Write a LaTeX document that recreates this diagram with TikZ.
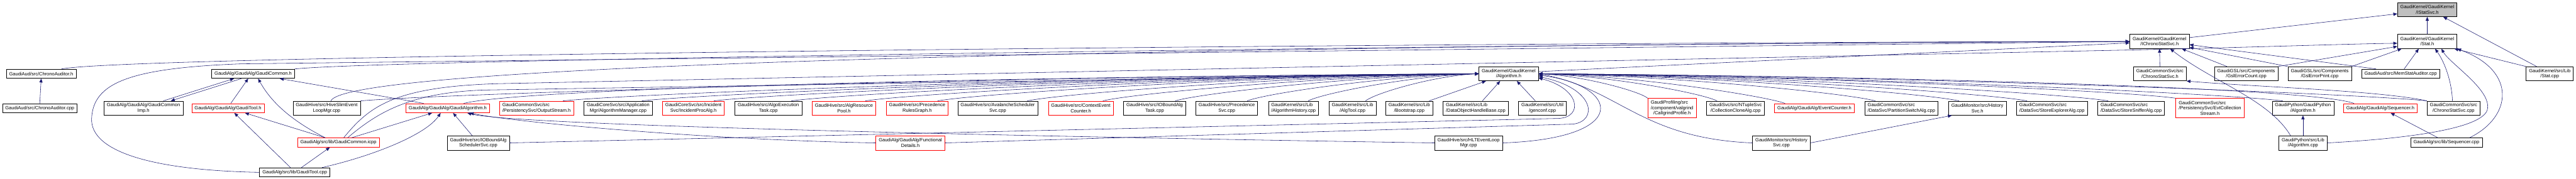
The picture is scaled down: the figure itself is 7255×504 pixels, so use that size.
\documentclass[tikz,border=0pt]{standalone}
\usepackage{fontspec}
\setmainfont{Liberation Sans}
\usetikzlibrary{arrows.meta}
\definecolor{doxyedge}{HTML}{191970}
\definecolor{doxyred}{HTML}{FF0000}
\definecolor{doxygray}{HTML}{BFBFBF}
\newcommand{\doxleft}[2]{\rlap{#1}\phantom{#2}}
\tikzset{
    filenode/.style={
        draw=black,
        fill=white,
        line width=1.1pt,
        inner xsep=8pt,
        inner ysep=1pt,
        minimum height=26pt,
        align=center,
        font=\fontsize{13.3}{15}\selectfont
    },
    twoline/.style={minimum height=40pt},
    threeline/.style={minimum height=55pt},
    filered/.style={filenode, draw=doxyred},
    filetop/.style={filenode, fill=doxygray},
    includearrow/.style={
        -{Triangle[length=11pt,width=9pt]},
        draw=doxyedge,
        line width=1pt
    }
}

\begin{document}
\begin{tikzpicture}[x=1pt, y=1pt]
    \fill[white] (0,0) rectangle (7255,-504);
    \useasboundingbox (0,0) rectangle (7255,-504);

    % headers near the top
    \node[filetop,twoline] (istatsvc) at (6836,-27)
        {GaudiKernel/GaudiKernel\\/IStatSvc.h};
    \node[filenode,twoline] (ichronostatsvc) at (6082,-117)
        {GaudiKernel/GaudiKernel\\/IChronoStatSvc.h};
    \node[filenode,twoline] (stath) at (6836,-117)
        {GaudiKernel/GaudiKernel\\/Stat.h};

    % second row
    \node[filenode] (chronoauditorh) at (116,-208)
        {GaudiAud/src/ChronoAuditor.h};
    \node[filenode] (gaudicommonh) at (713,-208)
        {GaudiAlg/GaudiAlg/GaudiCommon.h};
    \node[filenode,twoline] (algorithmh) at (4249,-208)
        {GaudiKernel/GaudiKernel\\/Algorithm.h};
    \node[filenode,twoline] (chronostatsvch) at (6083,-208)
        {GaudiCommonSvc/src\\/ChronoStatSvc.h};
    \node[filenode,twoline] (gslerrorcount) at (6326,-208)
        {GaudiGSL/src/Components\\/GslErrorCount.cpp};
    \node[filenode,twoline] (gslerrorprint) at (6533,-208)
        {GaudiGSL/src/Components\\/GslErrorPrint.cpp};
    \node[filenode] (memstatauditor) at (6761,-208)
        {GaudiAud/src/MemStatAuditor.cpp};
    \node[filenode,twoline] (statcpp) at (7181,-208)
        {GaudiKernel/src/Lib\\/Stat.cpp};

    % third row
    \node[filenode] (chronoauditorcpp) at (112,-305)
        {GaudiAud/src/ChronoAuditor.cpp};
    \node[filenode,twoline] (gaudicommonimp) at (404,-305)
        {GaudiAlg/GaudiAlg/GaudiCommon\\Imp.h};
    \node[filered] (gauditoolh) at (642,-305)
        {GaudiAlg/GaudiAlg/GaudiTool.h};
    \node[filenode,twoline] (hiveslim) at (920,-305)
        {GaudiHive/src/HiveSlimEvent\\LoopMgr.cpp};
    \node[filered] (gaudialgorithmh) at (1261,-305)
        {GaudiAlg/GaudiAlg/GaudiAlgorithm.h};
    \node[filered,twoline] (outputstream) at (1511,-305)
        {\doxleft{GaudiCommonSvc/src}{/PersistencySvc/OutputStream.h}\\/PersistencySvc/OutputStream.h};
    \node[filenode,twoline] (algorithmmanager) at (1741,-305)
        {GaudiCoreSvc/src/Application\\Mgr/AlgorithmManager.cpp};
    \node[filered,twoline] (incidentprocalg) at (1953,-305)
        {GaudiCoreSvc/src/Incident\\Svc/IncidentProcAlg.h};
    \node[filenode,twoline] (algoexecutiontask) at (2164,-305)
        {GaudiHive/src/AlgoExecution\\Task.cpp};
    \node[filered,twoline] (algresourcepool) at (2377,-305)
        {GaudiHive/src/AlgResource\\Pool.h};
    \node[filered,twoline] (precedencerules) at (2583,-305)
        {GaudiHive/src/Precedence\\RulesGraph.h};
    \node[filenode,twoline] (avalanche) at (2810,-305)
        {GaudiHive/src/AvalancheScheduler\\Svc.cpp};
    \node[filered,twoline] (contexteventcounter) at (3044,-305)
        {GaudiHive/src/ContextEvent\\Counter.h};
    \node[filenode,twoline] (ioboundalgtask) at (3252,-305)
        {GaudiHive/src/IOBoundAlg\\Task.cpp};
    \node[filenode,twoline] (precedencesvc) at (3455,-305)
        {GaudiHive/src/Precedence\\Svc.cpp};
    \node[filenode,twoline] (algorithmhistory) at (3643,-305)
        {\doxleft{GaudiKernel/src/Lib}{/AlgorithmHistory.cpp}\\/AlgorithmHistory.cpp};
    \node[filenode,twoline] (algtool) at (3809,-305)
        {GaudiKernel/src/Lib\\/AlgTool.cpp};
    \node[filenode,twoline] (bootstrap) at (3969,-305)
        {GaudiKernel/src/Lib\\/Bootstrap.cpp};
    \node[filenode,twoline] (dataobjecthandle) at (4156,-305)
        {\doxleft{GaudiKernel/src/Lib}{/DataObjectHandleBase.cpp}\\/DataObjectHandleBase.cpp};
    \node[filenode,twoline] (genconf) at (4344,-305)
        {GaudiKernel/src/Util\\/genconf.cpp};
    \node[filered,threeline] (callgrind) at (4709,-305)
        {\doxleft{GaudiProfiling/src}{/component/valgrind}\\/component/valgrind\\/CallgrindProfile.h};
    \node[filenode,twoline] (collectionclone) at (4888,-305)
        {GaudiSvc/src/NTupleSvc\\/CollectionCloneAlg.cpp};
    \node[filered] (eventcounter) at (5110,-305)
        {GaudiAlg/GaudiAlg/EventCounter.h};
    \node[filenode,twoline] (partitionswitch) at (5355,-305)
        {\doxleft{GaudiCommonSvc/src}{/DataSvc/PartitionSwitchAlg.cpp}\\/DataSvc/PartitionSwitchAlg.cpp};
    \node[filenode,twoline] (historysvch) at (5569,-305)
        {GaudiMonitor/src/History\\Svc.h};
    \node[filenode,twoline] (storeexplorer) at (5779,-305)
        {\doxleft{GaudiCommonSvc/src}{/DataSvc/StoreExplorerAlg.cpp}\\/DataSvc/StoreExplorerAlg.cpp};
    \node[filenode,twoline] (storesniffer) at (6002,-305)
        {\doxleft{GaudiCommonSvc/src}{/DataSvc/StoreSnifferAlg.cpp}\\/DataSvc/StoreSnifferAlg.cpp};
    \node[filered,threeline] (evtcollection) at (6224,-305)
        {\doxleft{GaudiCommonSvc/src}{/PersistencySvc/EvtCollection}\\/PersistencySvc/EvtCollection\\Stream.h};
    \node[filenode,twoline] (gaudipythonalgh) at (6486,-305)
        {GaudiPython/GaudiPython\\/Algorithm.h};
    \node[filered] (sequencerh) at (6704,-305)
        {GaudiAlg/GaudiAlg/Sequencer.h};
    \node[filenode,twoline] (chronostatsvccpp) at (6910,-305)
        {GaudiCommonSvc/src\\/ChronoStatSvc.cpp};

    % fourth and fifth rows
    \node[filered] (gaudicommonicpp) at (953,-402)
        {GaudiAlg/src/lib/GaudiCommon.icpp};
    \node[filenode,twoline] (ioboundalgsched) at (1347,-403)
        {GaudiHive/src/IOBoundAlg\\SchedulerSvc.cpp};
    \node[filered,twoline] (functionaldetails) at (2564,-403)
        {GaudiAlg/GaudiAlg/Functional\\Details.h};
    \node[filenode,twoline] (hlteventloop) at (4136,-403)
        {GaudiHive/src/HLTEventLoop\\Mgr.cpp};
    \node[filenode,twoline] (historysvccpp) at (5017,-403)
        {GaudiMonitor/src/History\\Svc.cpp};
    \node[filenode,twoline] (gaudipythonalgcpp) at (6486,-403)
        {GaudiPython/src/Lib\\/Algorithm.cpp};
    \node[filenode] (sequencercpp) at (6890,-402)
        {GaudiAlg/src/lib/Sequencer.cpp};
    \node[filenode] (gauditoolcpp) at (830,-486)
        {GaudiAlg/src/lib/GaudiTool.cpp};

    % direct includers of IStatSvc.h
    \draw[includearrow] ([yshift=11pt]ichronostatsvc.east) -- ([yshift=-12pt]istatsvc.west);
    \draw[includearrow] (stath.north) -- (istatsvc.south);
    \draw[includearrow] ([xshift=-37pt]statcpp.north) -- ([xshift=45pt]istatsvc.south);

    % IChronoStatSvc.h
    \draw[includearrow] (chronostatsvch.north) -- (ichronostatsvc.south);
    \draw[includearrow] ([xshift=-54pt]gslerrorcount.north) -- ([xshift=63pt]ichronostatsvc.south);
    \draw[includearrow] (gslerrorprint.north west) -- ([yshift=4pt]ichronostatsvc.south east);
    \draw[includearrow] ([xshift=-69pt]memstatauditor.north) -- ([yshift=-9pt]ichronostatsvc.east);
    \draw[includearrow] ([xshift=-35pt]gaudipythonalgcpp.north) .. controls (6390,-280) and (6230,-230) .. ([xshift=30pt]ichronostatsvc.south);
    \draw[includearrow] ([xshift=57pt]chronoauditorh.north) .. controls (400,-150) and (4800,-117) .. (ichronostatsvc.west);
    \draw[includearrow] (gaudicommonh.north east) .. controls (1100,-165) and (4800,-119) .. (ichronostatsvc.west);
    \draw[includearrow] ([xshift=12pt]hiveslim.north) .. controls (990,-150) and (4800,-121) .. (ichronostatsvc.west);
    \draw[includearrow] (gauditoolcpp.west) .. controls (420,-480) and (255,-425) .. (258,-335)
        .. controls (262,-235) and (360,-192) .. (680,-180) -- (ichronostatsvc.west);
    \draw[includearrow] ([yshift=6pt]algorithmh.east) -- ([yshift=-4pt]ichronostatsvc.west);

    % Stat.h
    \draw[includearrow] ([xshift=15pt]gaudicommonicpp.north) .. controls (1040,-300) and (1110,-245) .. (1400,-236)
        -- (5950,-142) .. controls (6300,-135) and (6600,-124) .. ([yshift=-5pt]stath.west);
    \draw[includearrow] (gslerrorcount.north east) -- ([yshift=-14pt]stath.west);
    \draw[includearrow] (gslerrorprint.north east) -- ([xshift=12pt]stath.south west);
    \draw[includearrow] ([xshift=10pt]memstatauditor.north) -- ([xshift=-24pt]stath.south);
    \draw[includearrow] ([xshift=-3pt]chronostatsvccpp.north) .. controls (6905,-230) and (6885,-175) .. ([xshift=22pt]stath.south);
    \draw[includearrow] (statcpp.north west) -- ([xshift=-8pt]stath.south east);
    \draw[includearrow] ([xshift=65pt]sequencercpp.north) .. controls (7075,-330) and (7090,-200) .. (stath.south east);
    \draw[includearrow] (gaudipythonalgcpp.east) .. controls (6800,-390) and (6990,-360) .. (7005,-310)
        .. controls (7020,-255) and (6900,-180) .. ([xshift=40pt]stath.south);

    % short links on the right
    \draw[includearrow] (chronostatsvccpp.north west) .. controls (6700,-255) and (6350,-245) .. (chronostatsvch.south east);
    \draw[includearrow] ([xshift=-24pt]sequencercpp.north) -- ([xshift=29pt]sequencerh.south);
    \draw[includearrow] (gaudipythonalgcpp.north) -- (gaudipythonalgh.south);
    \draw[includearrow] (historysvccpp.east) -- ([xshift=-72pt]historysvch.south);
    \draw[includearrow] (chronoauditorcpp.north) -- (chronoauditorh.south);

    % GaudiAlg cluster
    \draw[includearrow] ([xshift=56pt]gaudicommonimp.north) -- ([xshift=-54pt]gaudicommonh.south);
    \draw[includearrow] ([xshift=-33pt]gaudicommonh.south) -- ([xshift=77pt]gaudicommonimp.north);
    \draw[includearrow] ([xshift=8pt]gauditoolh.north) -- ([xshift=-14pt]gaudicommonh.south);
    \draw[includearrow] ([xshift=-37pt]gaudicommonicpp.north) .. controls (840,-350) and (770,-300) .. ([xshift=14pt]gaudicommonh.south);
    \draw[includearrow] ([xshift=-68pt]gaudialgorithmh.north) -- ([xshift=75pt]gaudicommonh.south);
    \draw[includearrow] ([xshift=-12pt]gauditoolcpp.north) -- ([xshift=18pt]gauditoolh.south);
    \draw[includearrow] ([xshift=-37pt]gaudicommonicpp.north) -- ([xshift=48pt]gauditoolh.south);
    \draw[includearrow] ([xshift=19pt]gauditoolcpp.north) -- ([xshift=-24pt]gaudicommonicpp.south);
    \draw[includearrow] ([xshift=77pt]gauditoolcpp.north) .. controls (1050,-440) and (1200,-380) .. ([xshift=-20pt]gaudialgorithmh.south);
    \draw[includearrow] ([xshift=37pt]gaudicommonicpp.north) -- ([xshift=-44pt]gaudialgorithmh.south);
    \draw[includearrow] ([xshift=-17pt]ioboundalgsched.north) -- ([xshift=15pt]gaudialgorithmh.south);
    \draw[includearrow] (hlteventloop.west) .. controls (3000,-387) and (1450,-355) .. ([xshift=55pt]gaudialgorithmh.south);
    \draw[includearrow] (functionaldetails.west) .. controls (2000,-395) and (1450,-345) .. ([xshift=62pt]gaudialgorithmh.south);

    % Algorithm.h, from the left
    \draw[includearrow] (hiveslim.north east) .. controls (1270,-263) and (2906,-214) .. (algorithmh.west);
    \draw[includearrow] ([xshift=26pt]gaudicommonicpp.north) .. controls (1060,-320) and (1150,-262) .. (1360,-254) -- (algorithmh.west);
    \draw[includearrow] ([xshift=45pt]gaudialgorithmh.north) .. controls (1500,-245) and (3021,-214) .. (algorithmh.west);
    \draw[includearrow] ([xshift=-30pt]outputstream.north east) .. controls (1794,-263) and (3134,-214) .. (algorithmh.west);
    \draw[includearrow] ([xshift=-30pt]algorithmmanager.north east) .. controls (1998,-263) and (3223,-214) .. (algorithmh.west);
    \draw[includearrow] ([xshift=-30pt]incidentprocalg.north east) .. controls (2185,-263) and (3304,-214) .. (algorithmh.west);
    \draw[includearrow] ([xshift=-30pt]algoexecutiontask.north east) .. controls (2386,-263) and (3391,-214) .. (algorithmh.west);
    \draw[includearrow] ([xshift=-30pt]algresourcepool.north east) .. controls (2577,-263) and (3475,-214) .. (algorithmh.west);
    \draw[includearrow] ([xshift=-30pt]precedencerules.north east) .. controls (2764,-263) and (3556,-214) .. (algorithmh.west);
    \draw[includearrow] ([xshift=-30pt]avalanche.north east) .. controls (2996,-263) and (3657,-214) .. (algorithmh.west);
    \draw[includearrow] ([xshift=-30pt]contexteventcounter.north east) .. controls (3193,-263) and (3743,-214) .. (algorithmh.west);
    \draw[includearrow] ([xshift=-30pt]ioboundalgtask.north east) .. controls (3379,-263) and (3823,-214) .. (algorithmh.west);
    \draw[includearrow] ([xshift=-30pt]precedencesvc.north east) .. controls (3566,-263) and (3905,-214) .. (algorithmh.west);
    \draw[includearrow] ([xshift=-30pt]algorithmhistory.north east) .. controls (3725,-263) and (3974,-214) .. (algorithmh.west);
    \draw[includearrow] ([xshift=-30pt]algtool.north east) .. controls (3872,-263) and (4038,-214) .. (algorithmh.west);
    \draw[includearrow] ([xshift=56pt]bootstrap.north) -- ([xshift=-64pt]algorithmh.south);
    \draw[includearrow] ([xshift=19pt]dataobjecthandle.north) -- ([xshift=-24pt]algorithmh.south);
    \draw[includearrow] ([xshift=-20pt]genconf.north) -- ([xshift=23pt]algorithmh.south);

    % Algorithm.h, from below and around its right side
    \draw[includearrow] (ioboundalgsched.east) -- (4390,-334) .. controls (4460,-330) and (4450,-250) .. ([yshift=-12pt]algorithmh.east);
    \draw[includearrow] (functionaldetails.east) -- (4430,-350) .. controls (4500,-342) and (4495,-250) .. ([yshift=-8pt]algorithmh.east);
    \draw[includearrow] (hlteventloop.east) .. controls (4600,-390) and (4560,-240) .. ([yshift=-4pt]algorithmh.east);
    \draw[includearrow] (historysvccpp.west) .. controls (4620,-390) and (4560,-250) .. (algorithmh.east);

    % Algorithm.h, from the right
    \draw[includearrow] (callgrind.north west) .. controls (4615,-256) and (4456,-214) .. (algorithmh.east);
    \draw[includearrow] ([xshift=30pt]collectionclone.north west) .. controls (4793,-263) and (4533,-214) .. (algorithmh.east);
    \draw[includearrow] ([xshift=30pt]eventcounter.north west) .. controls (4971,-271) and (4611,-214) .. (algorithmh.east);
    \draw[includearrow] ([xshift=30pt]partitionswitch.north west) .. controls (5202,-263) and (4711,-214) .. (algorithmh.east);
    \draw[includearrow] ([xshift=30pt]historysvch.north west) .. controls (5421,-263) and (4806,-214) .. (algorithmh.east);
    \draw[includearrow] ([xshift=30pt]storeexplorer.north west) .. controls (5596,-263) and (4882,-214) .. (algorithmh.east);
    \draw[includearrow] ([xshift=30pt]storesniffer.north west) .. controls (5806,-263) and (4973,-214) .. (algorithmh.east);
    \draw[includearrow] (evtcollection.north west) .. controls (5981,-256) and (5049,-214) .. (algorithmh.east);
    \draw[includearrow] ([xshift=30pt]gaudipythonalgh.north west) .. controls (6260,-263) and (5171,-214) .. (algorithmh.east);
    \draw[includearrow] ([xshift=30pt]sequencerh.north west) .. controls (6500,-245) and (5251,-214) .. (algorithmh.east);
    \draw[includearrow] (chronostatsvccpp.north west) .. controls (6633,-263) and (5333,-214) .. (algorithmh.east);
\end{tikzpicture}
\end{document}
